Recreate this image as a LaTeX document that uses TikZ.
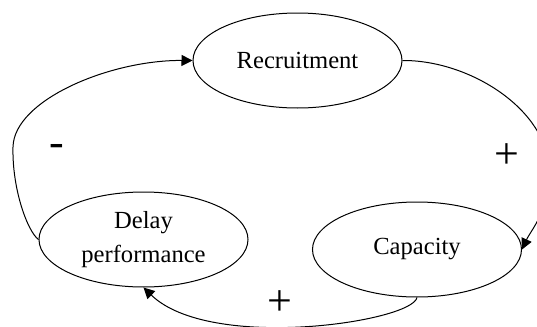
\documentclass[tikz,border=0pt]{standalone}
\usepackage{fontspec}
\setmainfont{Liberation Serif}
\usepackage{tikz}
\usetikzlibrary{arrows.meta,shapes.geometric}
\tikzset{
  var/.style  ={ellipse,draw,line width=0.5pt,minimum width=104.5pt,minimum height=47.5pt,inner sep=0pt,align=center,font=\fontsize{12.3}{17}\selectfont},
  link/.style ={draw,line width=0.5pt,-{Triangle[length=5.5pt,width=5.5pt]}},
  sgn/.style  ={inner sep=0pt,font=\fontsize{22}{24}\selectfont},
}
\begin{document}
\begin{tikzpicture}[x=0.5pt,y=-0.5pt]
  \useasboundingbox (0,0) rectangle (537,327);
  \node[var](rec) at (297.5,60.5){Recruitment};
  \node[var](dly) at (143.5,239.5){Delay\\performance};
  \node[var](cap) at (417,249.5){Capacity};
  \draw[link](dly.west) .. controls (28,232) and (12,190) .. (13,147) .. controls (14,100) and (110,60) .. (rec.west);
  \draw[link](rec.east) .. controls (470,60) and (548,110) .. (549,170) .. controls (550,210) and (531,230) .. (cap.east);
  \draw[link](cap.south) .. controls (412,322) and (210,352) .. (dly.south);
  \node[sgn](s1) at (57,150){-};
  \node[sgn](s2) at (507,156){+};
  \node[sgn](s3) at (280,303){+};
\end{tikzpicture}
\end{document}
